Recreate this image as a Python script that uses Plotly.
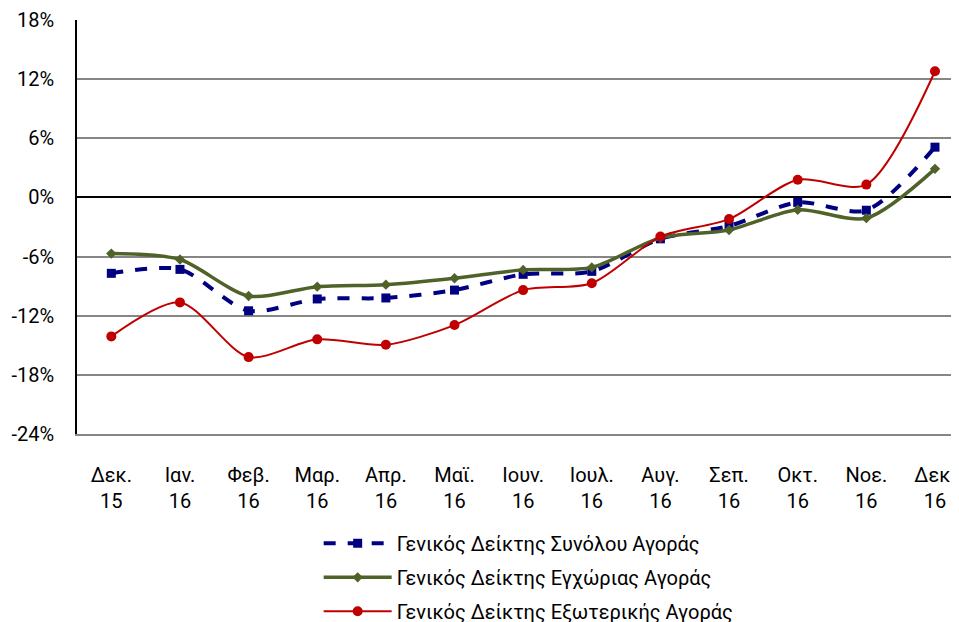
import plotly.graph_objects as go

months = ["Δεκ.", "Ιαν.", "Φεβ.", "Μαρ.", "Απρ.", "Μαϊ.", "Ιουν.", "Ιουλ.", "Αυγ.", "Σεπ.", "Οκτ.", "Νοε.", "Δεκ."]
years = ["15", "16", "16", "16", "16", "16", "16", "16", "16", "16", "16", "16", "16"]
categories = [f"{m}<br>{y}" for m, y in zip(months, years)]

total_market = [-7.7, -7.3, -11.5, -10.3, -10.2, -9.4, -7.8, -7.5, -4.2, -2.9, -0.5, -1.3, 5.1]
domestic_market = [-5.7, -6.3, -10.0, -9.05, -8.85, -8.2, -7.35, -7.1, -4.1, -3.3, -1.25, -2.1, 2.9]
foreign_market = [-14.1, -10.65, -16.2, -14.4, -14.95, -12.95, -9.4, -8.7, -3.97, -2.2, 1.8, 1.3, 12.8]

names = ["Γενικός Δείκτης Συνόλου Αγοράς",
         "Γενικός Δείκτης Εγχώριας Αγοράς",
         "Γενικός Δείκτης Εξωτερικής Αγοράς"]

ytick_vals = [18, 12, 6, 0, -6, -12, -18, -24]
ytick_text = [f"{v}%" for v in ytick_vals]

title_text = "Γενικοί Δείκτες Τιμών Συνόλου, Εγχώριας και Εξωτερικής Αγοράς"

FONT = "Roboto"
FS = 20

fig = go.Figure()
fig.add_trace(go.Scatter(
    x=categories, y=total_market, name=names[0], mode="lines+markers",
    line=dict(color="#000080", width=4, dash="dash", shape="spline", smoothing=0.8),
    marker=dict(symbol="square", size=9, color="#000080"), legendgroup="a"))
fig.add_trace(go.Scatter(
    x=categories, y=domestic_market, name=names[1], mode="lines+markers",
    line=dict(color="#4F6228", width=3.5, shape="spline", smoothing=0.8),
    marker=dict(symbol="diamond", size=8, color="#4F6228"), legendgroup="b"))
fig.add_trace(go.Scatter(
    x=categories, y=foreign_market, name=names[2], mode="lines+markers",
    line=dict(color="#C00000", width=2, shape="spline", smoothing=0.8),
    marker=dict(symbol="circle", size=10, color="#C00000"), legendgroup="c"))

fig.update_layout(
    width=959, height=622,
    margin=dict(l=69, r=8, t=12, b=196, autoexpand=False),
    paper_bgcolor="white", plot_bgcolor="white",
    font=dict(family=FONT, size=FS, color="black"),
    showlegend=True,
    legend=dict(x=0.274, y=-0.217, xanchor="left", yanchor="top",
                orientation="v", tracegroupgap=5, itemwidth=68,
                font=dict(family=FONT, size=FS, color="black"),
                bgcolor="rgba(0,0,0,0)"),
    annotations=[dict(text=f"<b>{title_text}</b>", xref="paper", yref="paper",
                      x=0.5, y=1.0, yshift=14, yanchor="bottom", showarrow=False,
                      font=dict(family=FONT, size=18, color="black"))],
)
fig.update_xaxes(
    type="category", range=[-0.5, 12.35], showgrid=False, automargin=False,
    showline=True, linecolor="#868686", linewidth=1.5, mirror=False,
    ticks="", tickfont=dict(family=FONT, size=FS), tickangle=0,
    ticklabelstandoff=22,
)
fig.update_yaxes(
    range=[-24, 18], tickvals=ytick_vals, ticktext=ytick_text, automargin=False,
    showgrid=True, gridcolor="#868686", gridwidth=1.5,
    zeroline=True, zerolinecolor="black", zerolinewidth=1.5,
    showline=True, linecolor="black", linewidth=1.5,
    ticks="", ticklabelstandoff=17, tickfont=dict(family=FONT, size=FS),
)

fig.write_html("out.html")
